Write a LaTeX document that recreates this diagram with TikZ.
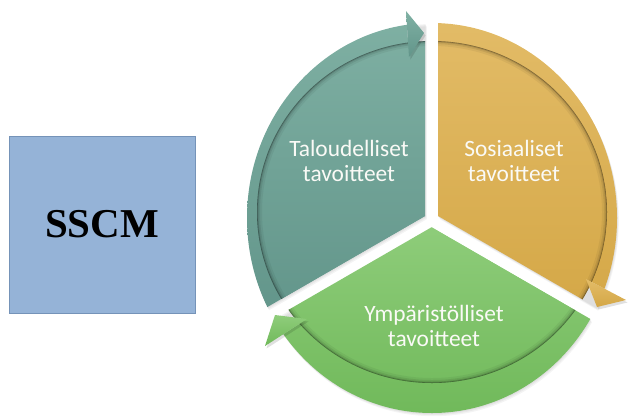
\documentclass[tikz,border=0pt]{standalone}
\usepackage{fontspec}
\setmainfont{Carlito}
\newfontfamily\titlefont{Liberation Serif}
\usetikzlibrary{calc}

\definecolor{boxfill}{HTML}{95B3D7}
\definecolor{boxline}{HTML}{7593B8}
\definecolor{tealtop}{HTML}{80B1A4}
\definecolor{tealbot}{HTML}{62958A}
\definecolor{goldtop}{HTML}{E3BC68}
\definecolor{goldbot}{HTML}{D4A746}
\definecolor{greentop}{HTML}{8FCD7B}
\definecolor{greenbot}{HTML}{70B95A}
\definecolor{labeltext}{HTML}{FAFAF6}

\tikzset{
  tealshade/.style={top color=tealtop, bottom color=tealbot},
  goldshade/.style={top color=goldtop, bottom color=goldbot},
  greenshade/.style={top color=greentop, bottom color=greenbot},
  partlabel/.style={text=labeltext, align=center, inner sep=0pt,
    font=\fontsize{23.4}{25}\selectfont},
}

% Soft drop shadow of one segment, built from a few faint offset copies.
% #1 slice corner, #2 tail edge angle, #3 middle angle, #4 head edge angle
\newcommand\partshadow[4]{%
  \foreach \dx/\dy in {0.6/-1, 1.2/-2, 1.8/-3.2} {
    \begin{scope}[transform canvas={shift={(\dx pt,\dy pt)}}]
      \clip (#1) -- ($(#1)+(#2:600)$) -- ($(#1)+(#3:700)$)
        -- ($(#1)+(#4:600)$) -- cycle;
      \fill[black, opacity=0.045] (ringc) ellipse [x radius=185, y radius=195];
    \end{scope}
  }%
}

% One segment of the cycle: a ring arrow and a pie slice.
% #1 slice corner, #2 tail edge angle, #3 middle angle, #4 head edge angle,
% #5 head base (outer), #6 head base (inner), #7 head tip,
% #8 shading style, #9 rectangle carrying the shading
\newcommand\cyclepart[9]{%
  % ring arrow shaft
  \begin{scope}
    \clip (#1) -- ($(#1)+(#2:600)$) -- ($(#1)+(#3:700)$)
      -- ($(#6)!6!(#5)$) -- ($(#5)!4!(#6)$) -- cycle;
    \clip (ringc) ellipse [x radius=185, y radius=195];
    \shade[#8] #9;
  \end{scope}
  % pie slice
  \begin{scope}
    \clip (#1) -- ($(#1)+(#2:600)$) -- ($(#1)+(#3:700)$)
      -- ($(#1)+(#4:600)$) -- cycle;
    \clip (slicec) ellipse [x radius=175, y radius=171];
    \shade[#8] #9;
    % shadow of the ring on the slice
    \draw[black, opacity=0.05, line width=10] (slicec) ellipse [x radius=175, y radius=171];
    \draw[black, opacity=0.08, line width=6] (slicec) ellipse [x radius=175, y radius=171];
    \draw[black, opacity=0.12, line width=3] (slicec) ellipse [x radius=175, y radius=171];
    \draw[black, opacity=0.25, line width=1.2] (slicec) ellipse [x radius=175, y radius=171];
  \end{scope}
  % arrow head with its shadow
  \fill[black, opacity=0.12] ($(#5)+(1.5,-2.5)$) -- ($(#7)+(1.5,-2.5)$) -- ($(#6)+(1.5,-2.5)$) -- cycle;
  \shade[#8] (#5) -- (#7) -- (#6) -- cycle;
}

\begin{document}
\begin{tikzpicture}[x=1pt, y=1pt]
\useasboundingbox (0,0) rectangle (631,-416);

% centres of the ring and of the slices
\coordinate (ringc) at (432,-218);
\coordinate (slicec) at (432,-212);
% slice corners (slices pushed slightly apart)
\coordinate (tcorner) at (425,-216);
\coordinate (gcorner) at (438,-216);
\coordinate (ncorner) at (431.5,-227.25);

% arrow heads: base outer, base inner, tip
\coordinate (thout) at (406,-11);
\coordinate (thin) at (409,-57);
\coordinate (thtip) at (424,-33);
\coordinate (ghout) at (626,-300);
\coordinate (ghin) at (586,-279);
\coordinate (ghtip) at (597,-307);
\coordinate (nhout) at (265,-346);
\coordinate (nhin) at (307,-319);
\coordinate (nhtip) at (275,-315);

\partshadow{tcorner}{210}{150}{90}
\partshadow{gcorner}{90}{30}{-30}
\partshadow{ncorner}{330}{270}{210}

\cyclepart{tcorner}{210}{150}{90}{thout}{thin}{thtip}{tealshade}{(240,-5) rectangle (440,-320)}
\cyclepart{gcorner}{90}{30}{-30}{ghout}{ghin}{ghtip}{goldshade}{(430,-10) rectangle (631,-320)}
\cyclepart{ncorner}{330}{270}{210}{nhout}{nhin}{nhtip}{greenshade}{(250,-220) rectangle (631,-416)}

\node[partlabel] (econ) at (349,-161) {Taloudelliset\\tavoitteet};
\node[partlabel] (soc) at (514,-161) {Sosiaaliset\\tavoitteet};
\node[partlabel] (env) at (434,-326) {Ympäristölliset\\tavoitteet};

\node[draw=boxline, fill=boxfill, line width=0.8pt, inner sep=0pt,
  minimum width=186pt, minimum height=177pt,
  font=\titlefont\bfseries\fontsize{41}{41}\selectfont] (sscm) at (102,-224.5) {SSCM};
\end{tikzpicture}
\end{document}
